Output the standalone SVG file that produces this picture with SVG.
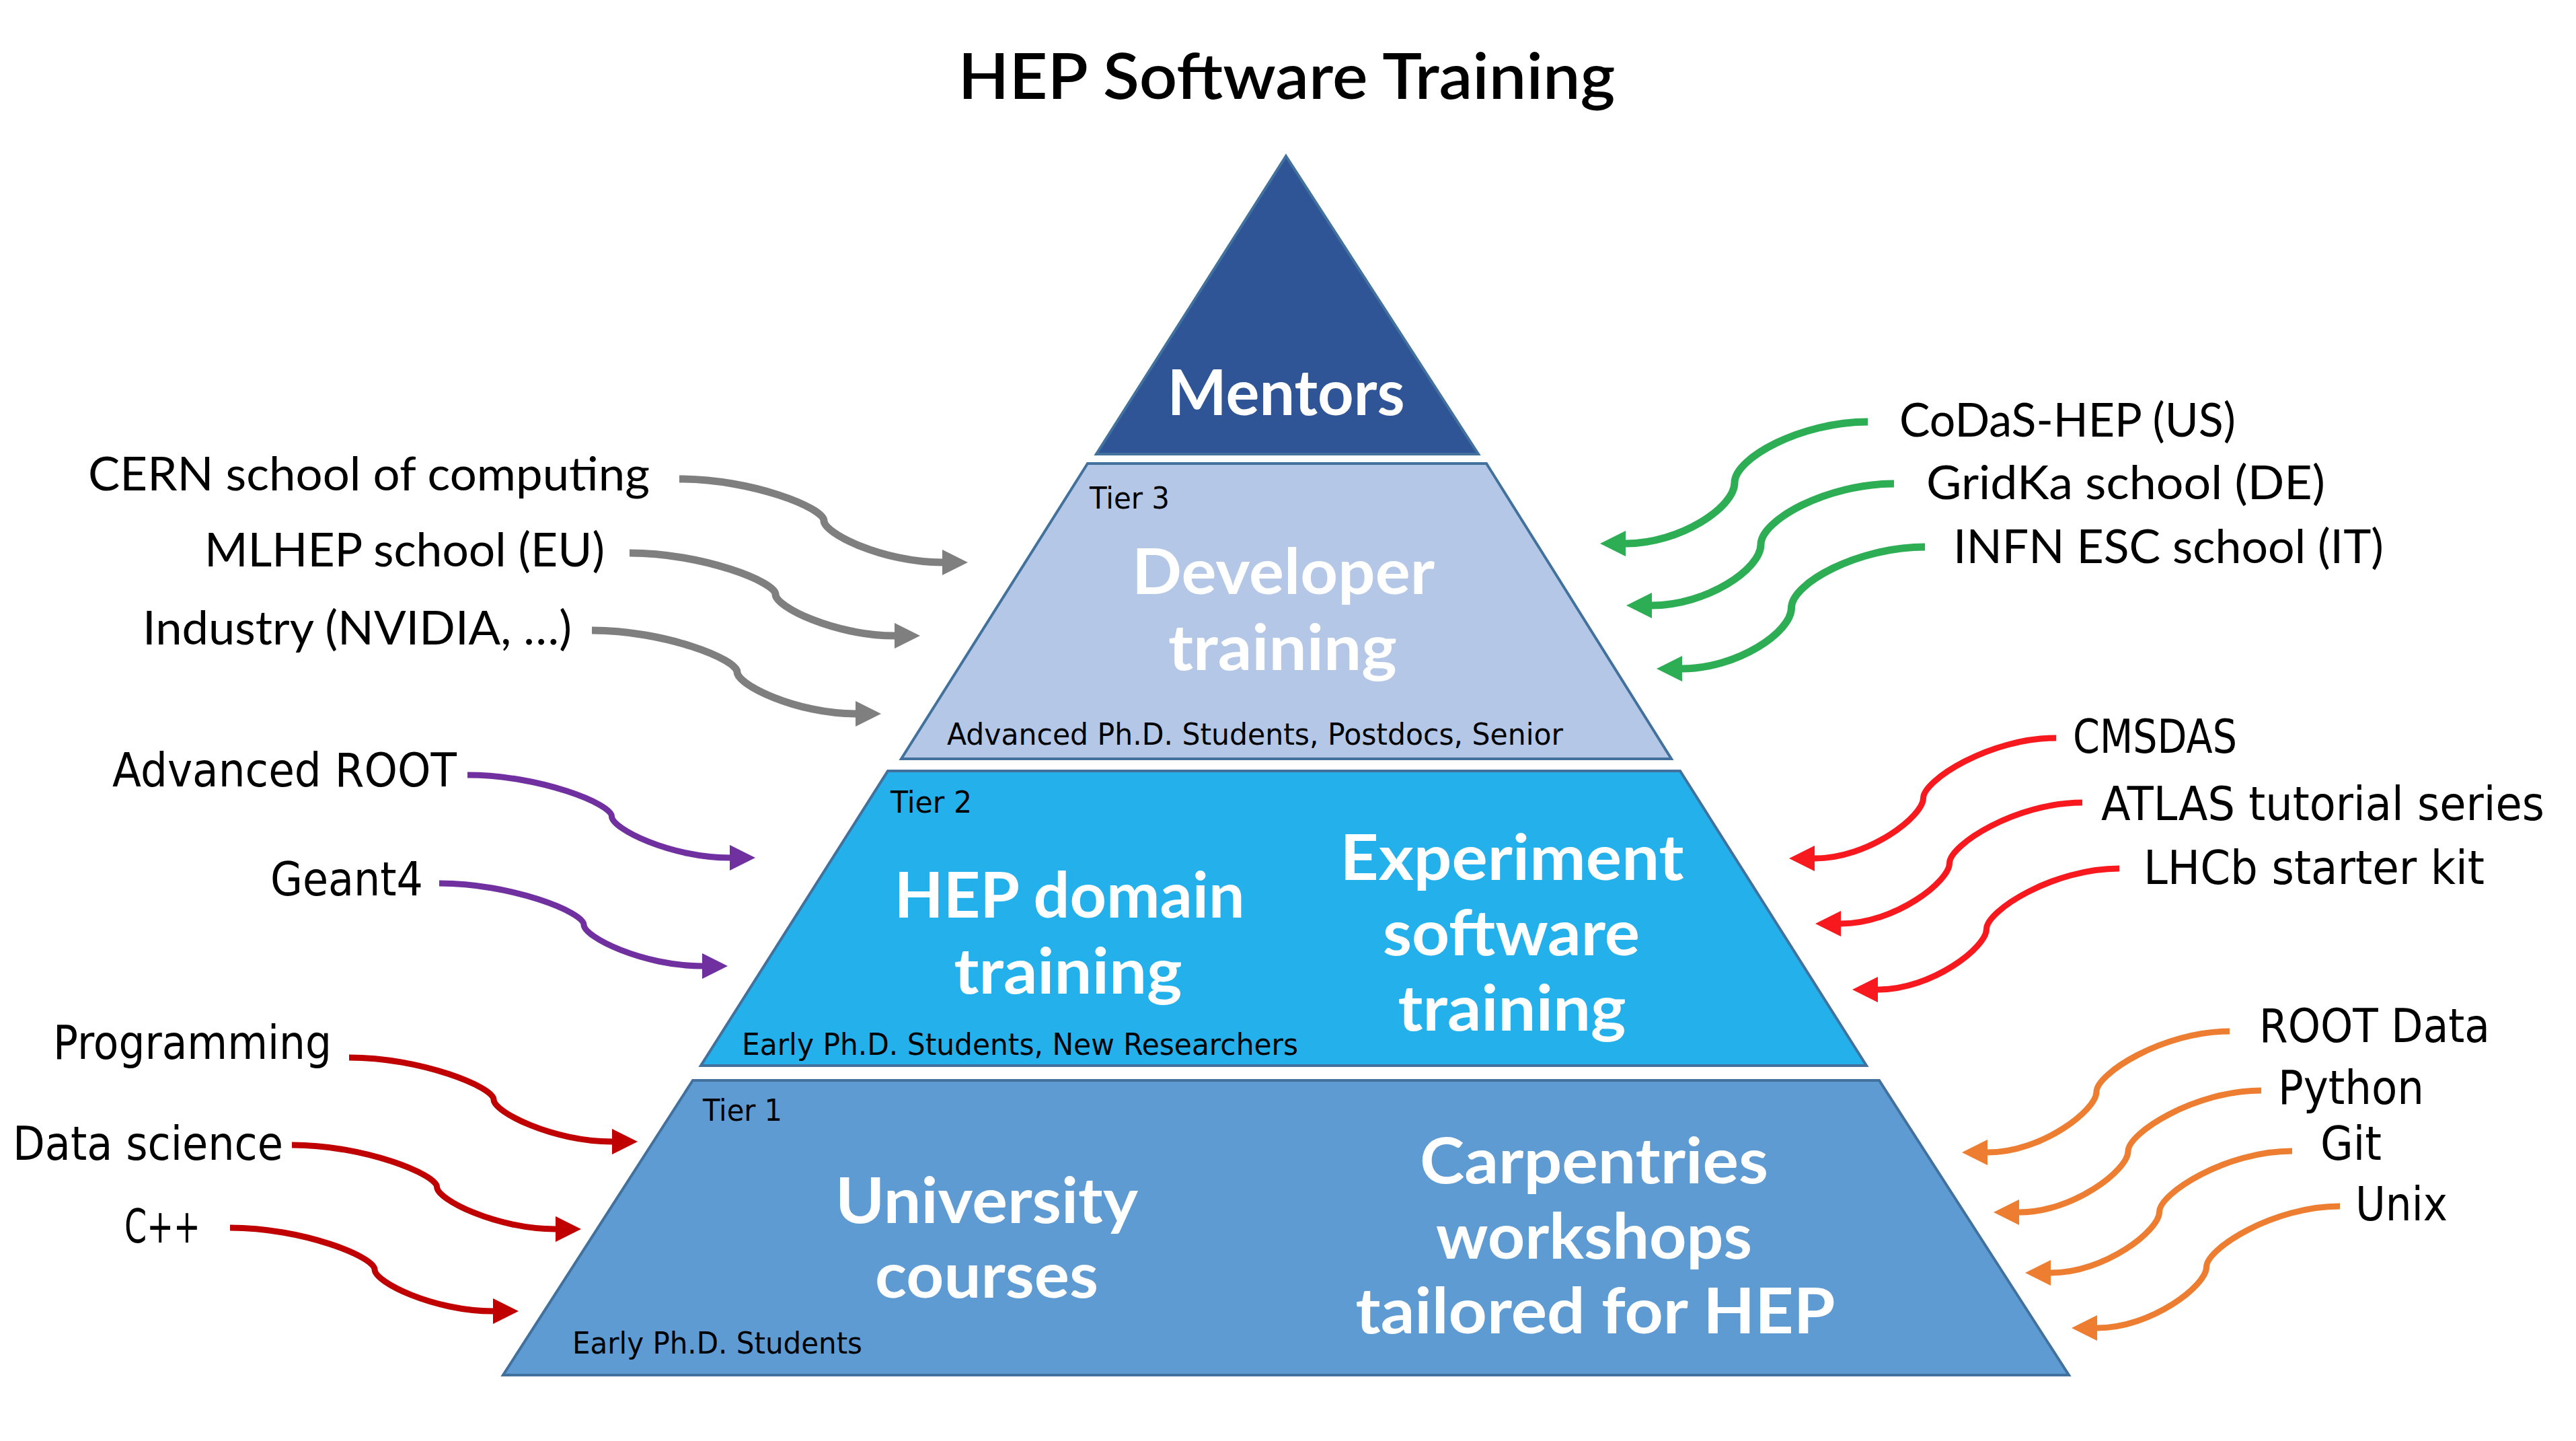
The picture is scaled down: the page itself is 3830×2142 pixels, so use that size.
<svg xmlns="http://www.w3.org/2000/svg" width="3830" height="2142" viewBox="0 0 3830 2142">
<style>
.lvl{stroke:#41719C;stroke-width:4;stroke-linejoin:miter}
.big{font-family:Lato,"Open Sans","Liberation Sans",sans-serif;font-weight:700;font-size:94px;fill:#FFFFFF;text-anchor:middle}
.tier{font-family:"DejaVu Sans","Liberation Sans",sans-serif;font-size:44px;fill:#000}
.lbl{font-family:"DejaVu Sans","Liberation Sans",sans-serif;font-size:70px;fill:#000}
.lbl2{font-family:Lato,"Open Sans","Liberation Sans",sans-serif;font-size:70px;fill:#000}
.end{text-anchor:end}
.title{font-family:Lato,"Open Sans","Liberation Sans",sans-serif;font-weight:600;font-size:94px;fill:#000;text-anchor:middle}
.c{fill:none;stroke-linecap:butt}
.gray{stroke:#7F7F7F;stroke-width:11;marker-end:url(#ag)}
.green{stroke:#2DAE54;stroke-width:11;marker-end:url(#agr)}
.purple{stroke:#7030A0;stroke-width:9;marker-end:url(#ap)}
.dred{stroke:#C00000;stroke-width:9;marker-end:url(#adr)}
.red{stroke:#F8191F;stroke-width:9;marker-end:url(#ar)}
.orange{stroke:#ED7D31;stroke-width:9;marker-end:url(#ao)}
</style>
<defs>
<marker id="ag" markerUnits="userSpaceOnUse" viewBox="0 0 38 38" markerWidth="38" markerHeight="38" refX="0" refY="19" orient="auto"><path d="M0,0 L38,19 L0,38 Z" fill="#7F7F7F"/></marker>
<marker id="agr" markerUnits="userSpaceOnUse" viewBox="0 0 38 38" markerWidth="38" markerHeight="38" refX="0" refY="19" orient="auto"><path d="M0,0 L38,19 L0,38 Z" fill="#2DAE54"/></marker>
<marker id="ap" markerUnits="userSpaceOnUse" viewBox="0 0 38 38" markerWidth="38" markerHeight="38" refX="0" refY="19" orient="auto"><path d="M0,0 L38,19 L0,38 Z" fill="#7030A0"/></marker>
<marker id="adr" markerUnits="userSpaceOnUse" viewBox="0 0 38 38" markerWidth="38" markerHeight="38" refX="0" refY="19" orient="auto"><path d="M0,0 L38,19 L0,38 Z" fill="#C00000"/></marker>
<marker id="ar" markerUnits="userSpaceOnUse" viewBox="0 0 38 38" markerWidth="38" markerHeight="38" refX="0" refY="19" orient="auto"><path d="M0,0 L38,19 L0,38 Z" fill="#F8191F"/></marker>
<marker id="ao" markerUnits="userSpaceOnUse" viewBox="0 0 38 38" markerWidth="38" markerHeight="38" refX="0" refY="19" orient="auto"><path d="M0,0 L38,19 L0,38 Z" fill="#ED7D31"/></marker>
</defs>
<rect width="3830" height="2142" fill="#FFFFFF"/>
<text class="title" x="1913" y="147" textLength="977" lengthAdjust="spacingAndGlyphs">HEP Software Training</text>

<g id="mentors">
<polygon class="lvl" fill="#2F5597" points="1912,232 2198,675 1630,675"/>
<text class="big" x="1912" y="617" textLength="353" lengthAdjust="spacingAndGlyphs">Mentors</text>
</g>
<g id="tier3">
<polygon class="lvl" fill="#B4C7E7" points="1617,689 2210,689 2485,1128 1340,1128"/>
<text class="tier" x="1620" y="756" textLength="119" lengthAdjust="spacingAndGlyphs">Tier 3</text>
<text class="big" x="1908" y="883" textLength="450" lengthAdjust="spacingAndGlyphs">Developer</text>
<text class="big" x="1907" y="996" textLength="340" lengthAdjust="spacingAndGlyphs">training</text>
<text class="tier" x="1408" y="1107" textLength="916" lengthAdjust="spacingAndGlyphs">Advanced Ph.D. Students, Postdocs, Senior</text>
</g>
<g id="tier2">
<polygon class="lvl" fill="#23B0EB" points="1320,1146 2498,1146 2775,1584 1042,1584"/>
<text class="tier" x="1324" y="1208" textLength="121" lengthAdjust="spacingAndGlyphs">Tier 2</text>
<text class="big" x="1590" y="1364" textLength="521" lengthAdjust="spacingAndGlyphs">HEP domain</text>
<text class="big" x="1588" y="1477" textLength="339" lengthAdjust="spacingAndGlyphs">training</text>
<text class="big" x="2248" y="1308" textLength="511" lengthAdjust="spacingAndGlyphs">Experiment</text>
<text class="big" x="2247" y="1420" textLength="382" lengthAdjust="spacingAndGlyphs">software</text>
<text class="big" x="2248" y="1532" textLength="339" lengthAdjust="spacingAndGlyphs">training</text>
<text class="tier" x="1103" y="1568" textLength="827" lengthAdjust="spacingAndGlyphs">Early Ph.D. Students, New Researchers</text>
</g>
<g id="tier1">
<polygon class="lvl" fill="#5F9BD3" points="1030,1606 2794,1606 3076,2044 748,2044"/>
<text class="tier" x="1045" y="1666" textLength="118" lengthAdjust="spacingAndGlyphs">Tier 1</text>
<text class="big" x="1467" y="1818" textLength="450" lengthAdjust="spacingAndGlyphs">University</text>
<text class="big" x="1467" y="1929" textLength="332" lengthAdjust="spacingAndGlyphs">courses</text>
<text class="big" x="2370" y="1759" textLength="518" lengthAdjust="spacingAndGlyphs">Carpentries</text>
<text class="big" x="2370" y="1871" textLength="470" lengthAdjust="spacingAndGlyphs">workshops</text>
<text class="big" x="2372" y="1982" textLength="713" lengthAdjust="spacingAndGlyphs">tailored for HEP</text>
<text class="tier" x="851" y="2012" textLength="431" lengthAdjust="spacingAndGlyphs">Early Ph.D. Students</text>
</g>

<g id="src-cern"><text class="lbl2 end" x="966" y="729" textLength="835" lengthAdjust="spacingAndGlyphs">CERN school of computing</text></g>
<g id="src-mlhep"><text class="lbl2 end" x="899" y="842" textLength="595" lengthAdjust="spacingAndGlyphs">MLHEP school (EU)</text></g>
<g id="src-industry"><text class="lbl2 end" x="850" y="958" textLength="638" lengthAdjust="spacingAndGlyphs">Industry (NVIDIA, …)</text></g>
<g id="src-advroot"><text class="lbl end" x="679" y="1169" textLength="512" lengthAdjust="spacingAndGlyphs">Advanced ROOT</text></g>
<g id="src-geant4"><text class="lbl end" x="629" y="1331" textLength="227" lengthAdjust="spacingAndGlyphs">Geant4</text></g>
<g id="src-programming"><text class="lbl end" x="493" y="1574" textLength="414" lengthAdjust="spacingAndGlyphs">Programming</text></g>
<g id="src-datascience"><text class="lbl end" x="421" y="1724" textLength="402" lengthAdjust="spacingAndGlyphs">Data science</text></g>
<g id="src-cpp"><text class="lbl end" x="298" y="1847" textLength="113" lengthAdjust="spacingAndGlyphs">C++</text></g>

<g id="src-codas"><text class="lbl2" x="2824" y="649" textLength="500" lengthAdjust="spacingAndGlyphs">CoDaS-HEP (US)</text></g>
<g id="src-gridka"><text class="lbl2" x="2864" y="742" textLength="593" lengthAdjust="spacingAndGlyphs">GridKa school (DE)</text></g>
<g id="src-infn"><text class="lbl2" x="2904" y="837" textLength="640" lengthAdjust="spacingAndGlyphs">INFN ESC school (IT)</text></g>
<g id="src-cmsdas"><text class="lbl" x="3082" y="1119" textLength="244" lengthAdjust="spacingAndGlyphs">CMSDAS</text></g>
<g id="src-atlas"><text class="lbl end" x="3783" y="1219" textLength="659" lengthAdjust="spacingAndGlyphs">ATLAS tutorial series</text></g>
<g id="src-lhcb"><text class="lbl" x="3187" y="1314" textLength="507" lengthAdjust="spacingAndGlyphs">LHCb starter kit</text></g>
<g id="src-rootdata"><text class="lbl" x="3359" y="1549" textLength="343" lengthAdjust="spacingAndGlyphs">ROOT Data</text></g>
<g id="src-python"><text class="lbl" x="3387" y="1641" textLength="217" lengthAdjust="spacingAndGlyphs">Python</text></g>
<g id="src-git"><text class="lbl" x="3450" y="1724" textLength="91" lengthAdjust="spacingAndGlyphs">Git</text></g>
<g id="src-unix"><text class="lbl" x="3502" y="1814" textLength="137" lengthAdjust="spacingAndGlyphs">Unix</text></g>

<g id="connectors">
<path class="c gray" d="M1010,712 C1118,712 1225,755 1225,774 C1225,793 1313,836 1401,836"/>
<path class="c gray" d="M936,822 C1044,822 1153,865 1153,883.5 C1153,902 1241,945 1330,945"/>
<path class="c gray" d="M880,937 C988,937 1096,980 1096,999 C1096,1018 1184,1061 1272,1061"/>
<path class="c green" d="M2777,627 C2678,627 2579,681 2579,717.5 C2579,754 2498,808 2417,808"/>
<path class="c green" d="M2816,719 C2717,719 2618,773 2618,809.5 C2618,846 2537,900 2456,900"/>
<path class="c green" d="M2862,813 C2763,813 2663.5,867 2663.5,903.5 C2663.5,940 2582,994 2501,994"/>
<path class="c purple" d="M695,1152 C802,1152 909.5,1195 909.5,1213.5 C909.5,1232 997,1275 1085,1275"/>
<path class="c purple" d="M653,1313 C760,1313 868,1356 868,1374.5 C868,1393 956,1436 1044,1436"/>
<path class="c dred" d="M519,1572 C626,1572 734,1616 734,1634.5 C734,1653 822,1697 910,1697"/>
<path class="c dred" d="M434,1702 C542,1702 649.6,1746 649.6,1764.5 C649.6,1783 738,1827 826,1827"/>
<path class="c dred" d="M342,1825 C449,1825 557,1868 557,1887 C557,1906 645,1949 733,1949"/>
<path class="c red" d="M3057,1097 C2958,1097 2859.5,1160 2859.5,1186.5 C2859.5,1213 2779,1276 2698,1276"/>
<path class="c red" d="M3096,1193 C2997,1193 2898.5,1256 2898.5,1283 C2898.5,1310 2818,1373 2737,1373"/>
<path class="c red" d="M3151,1291 C3052,1291 2953.5,1354 2953.5,1381 C2953.5,1408 2873,1471 2792,1471"/>
<path class="c orange" d="M3315,1533 C3216,1533 3117,1596 3117,1623 C3117,1650 3036,1713 2955,1713"/>
<path class="c orange" d="M3362,1621 C3263,1621 3164,1684 3164,1711.5 C3164,1739 3083,1802 3002,1802"/>
<path class="c orange" d="M3408,1711 C3309,1711 3210.5,1774 3210.5,1801.5 C3210.5,1829 3130,1892 3049,1892"/>
<path class="c orange" d="M3479,1793 C3380,1793 3280.5,1856 3280.5,1883.5 C3280.5,1911 3199,1974 3118,1974"/>
</g>
</svg>
